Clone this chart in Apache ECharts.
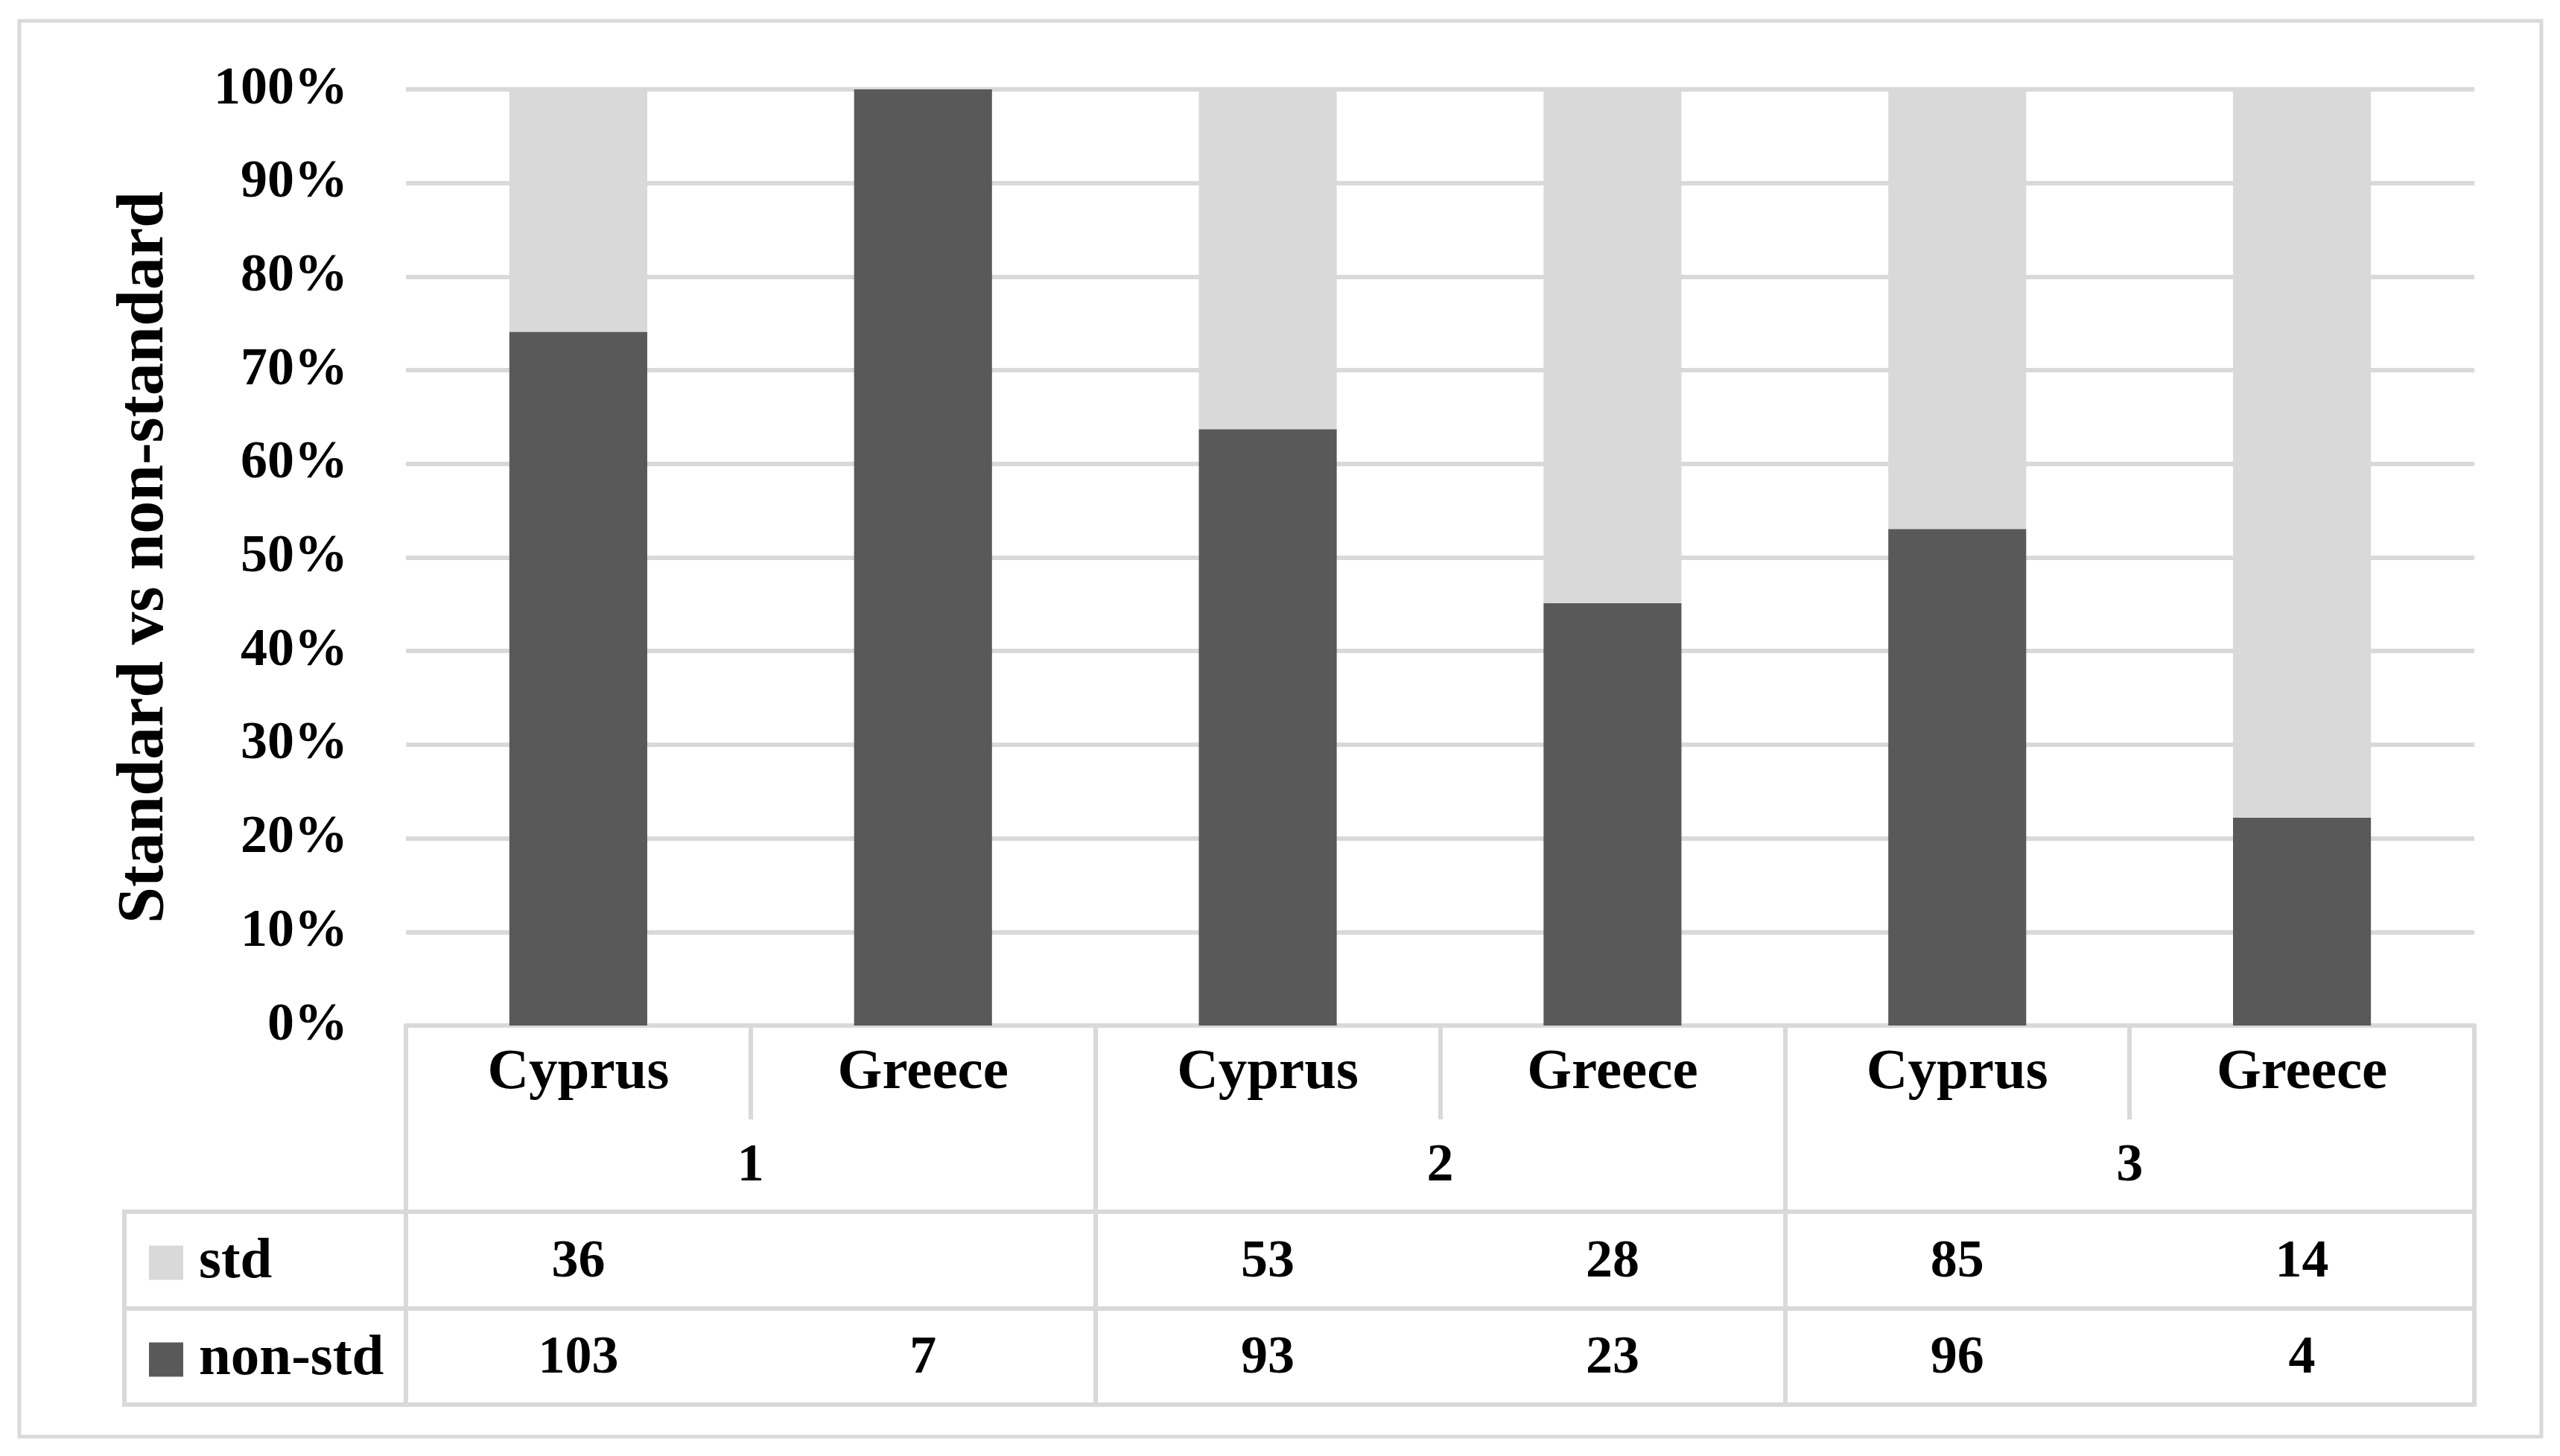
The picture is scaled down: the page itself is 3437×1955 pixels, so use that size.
<!DOCTYPE html>
<html>
<head>
<meta charset="utf-8">
<script src="https://cdn.jsdelivr.net/npm/echarts@6/dist/echarts.min.js"></script>
<style>
  html, body { margin: 0; padding: 0; background: #fff; }
  #chart { width: 3437px; height: 1955px; }
</style>
</head>
<body>
<div id="chart"></div>
<script>
// data
var categories = ['Cyprus', 'Greece', 'Cyprus', 'Greece', 'Cyprus', 'Greece'];
var groups = ['1', '2', '3'];
var stdCounts = [36, null, 53, 28, 85, 14];
var nonStdCounts = [103, 7, 93, 23, 96, 4];
var yTicks = [0, 10, 20, 30, 40, 50, 60, 70, 80, 90, 100];

// shares for the 100% stacked bars
function share(a, b) {
  return a.map(function (v, i) {
    if (v == null) return null;
    return v / ((a[i] || 0) + (b[i] || 0)) * 100;
  });
}
var stdPct = share(stdCounts, nonStdCounts);
var nonStdPct = share(nonStdCounts, stdCounts);

var W = 3437, H = 1955;
var gridL = 545, gridR = 3322, gridT = 120, gridB = 1377;
var rowLines = [1627, 1757, 1886];
var legendL = 167;
var LINE = '#d9d9d9';
var FONT = 'Liberation Serif';

var chart = echarts.init(document.getElementById('chart'), null, {renderer: 'canvas'});

var txt = {fontFamily: FONT, fontWeight: 'bold', fontSize: 72, color: '#000'};
var word = Object.assign({}, txt, {fontSize: 77});

chart.setOption({
  animation: false,
  backgroundColor: '#fff',
  textStyle: {fontFamily: FONT},
  grid: {left: gridL, right: W - gridR, top: gridT, bottom: H - gridB, containLabel: false},
  legend: {
    data: ['std', 'non-std'],
    orient: 'vertical',
    left: 195,
    top: 1652,
    itemWidth: 46,
    itemHeight: 46,
    itemGap: 53,
    icon: 'rect',
    selectedMode: false,
    textStyle: Object.assign({}, word, {lineHeight: 76, padding: [0, 0, 0, 16]})
  },
  xAxis: [
    {
      type: 'category',
      data: categories,
      position: 'bottom',
      axisLine: {show: true, lineStyle: {color: LINE, width: 6}},
      axisTick: {show: true, interval: 0, length: 126, lineStyle: {color: LINE, width: 6}},
      axisLabel: Object.assign({}, word, {margin: 26, interval: 0})
    },
    {
      type: 'category',
      data: groups,
      position: 'bottom',
      axisLine: {show: false},
      axisTick: {show: true, interval: 0, length: rowLines[2] - gridB + 2, lineStyle: {color: LINE, width: 6}},
      axisLabel: Object.assign({}, txt, {margin: 153, interval: 0})
    },
    {
      type: 'category',
      data: categories,
      position: 'bottom',
      axisLine: {show: false},
      axisTick: {show: false},
      axisLabel: Object.assign({}, txt, {
        margin: 282, interval: 0,
        formatter: function (v, i) { return stdCounts[i] == null ? '' : String(stdCounts[i]); }
      })
    },
    {
      type: 'category',
      data: categories,
      position: 'bottom',
      axisLine: {show: false},
      axisTick: {show: false},
      axisLabel: Object.assign({}, txt, {
        margin: 411, interval: 0,
        formatter: function (v, i) { return nonStdCounts[i] == null ? '' : String(nonStdCounts[i]); }
      })
    }
  ],
  yAxis: {
    type: 'value',
    min: yTicks[0],
    max: yTicks[yTicks.length - 1],
    interval: 10,
    name: 'Standard vs non-standard',
    nameLocation: 'middle',
    nameGap: 306,
    nameTextStyle: {fontFamily: FONT, fontWeight: 'bold', fontSize: 88, color: '#000'},
    axisLine: {show: false},
    axisTick: {show: false},
    axisLabel: Object.assign({}, txt, {margin: 78, formatter: '{value}%', verticalAlign: 'middle', padding: [12, 0, 0, 0]}),
    splitLine: {show: true, lineStyle: {color: LINE, width: 6}}
  },
  series: [
    {
      name: 'non-std',
      type: 'bar',
      stack: 'all',
      barWidth: '40%',
      itemStyle: {color: '#595959'},
      data: nonStdPct
    },
    {
      name: 'std',
      type: 'bar',
      stack: 'all',
      barWidth: '40%',
      itemStyle: {color: '#d9d9d9'},
      data: stdPct
    }
  ],
  graphic: [
    // outer frame
    {type: 'rect', shape: {x: 26, y: 28, width: 3386, height: 1901},
      style: {fill: null, stroke: LINE, lineWidth: 5}, silent: true},
    // table rows
    {type: 'line', shape: {x1: legendL, y1: rowLines[0], x2: gridR, y2: rowLines[0]},
      style: {stroke: LINE, lineWidth: 6}, silent: true},
    {type: 'line', shape: {x1: legendL, y1: rowLines[1], x2: gridR, y2: rowLines[1]},
      style: {stroke: LINE, lineWidth: 6}, silent: true},
    {type: 'line', shape: {x1: legendL, y1: rowLines[2], x2: gridR + 3, y2: rowLines[2]},
      style: {stroke: LINE, lineWidth: 6}, silent: true},
    {type: 'line', shape: {x1: legendL, y1: rowLines[0] - 3, x2: legendL, y2: rowLines[2] + 3},
      style: {stroke: LINE, lineWidth: 6}, silent: true}
  ]
});
</script>
</body>
</html>
